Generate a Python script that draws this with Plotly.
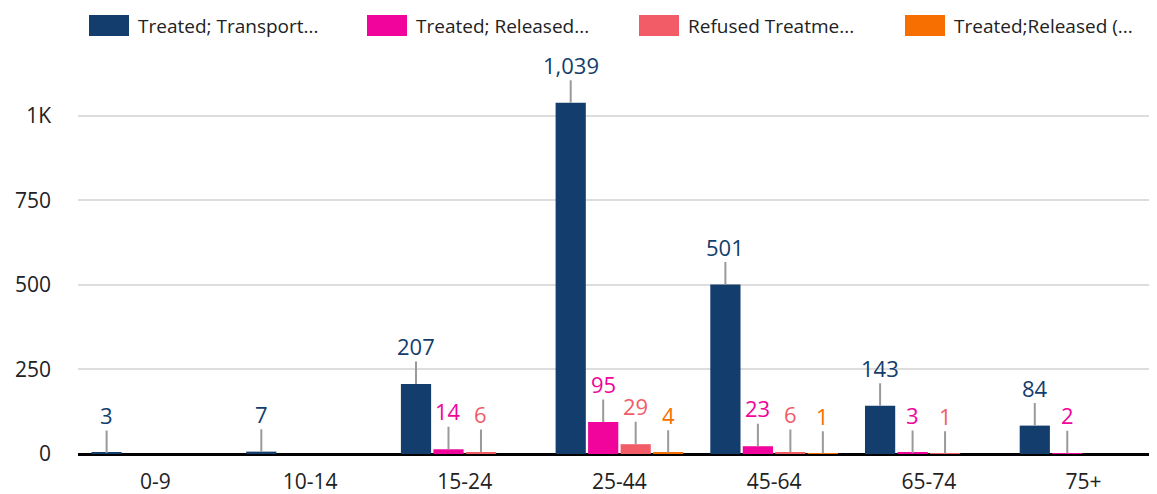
import plotly.graph_objects as go

categories = ["0-9", "10-14", "15-24", "25-44", "45-64", "65-74", "75+"]
series_names = ["Treated; Transport...", "Treated; Released...", "Refused Treatme...", "Treated;Released (..."]
transported = [3, 7, 207, 1039, 501, 143, 84]
released = [0, 0, 14, 95, 23, 3, 2]
refused = [0, 0, 6, 29, 6, 1, 0]
released_other = [0, 0, 0, 4, 1, 0, 0]
series_values = [transported, released, refused, released_other]
colors = ["#133D6C", "#F0049B", "#F25C66", "#F76F00"]
ytick_vals = [0, 250, 500, 750, 1000]
ytick_text = ["0", "250", "500", "750", "1K"]

# the page body adds an 8px margin, so the figure is drawn 8px smaller
OFF = 8
W, H = 1157 - OFF, 494 - OFF
ML, MR, MT, MB = 78 - OFF, 0, 55 - OFF, 40
FONT = "Open Sans"
BARGAP = 0.16
GROUPGAP = 0.07
XRANGE = [-0.5, 6.475]

fig = go.Figure()
for name, vals, col in zip(series_names, series_values, colors):
    fig.add_trace(go.Bar(x=categories, y=vals, name=name, marker_color=col,
                         marker_line_width=0, showlegend=False))

# pixel width of one bar slot inside a group
plot_w = W - ML - MR
plot_h = H - MT - MB
cat_px = plot_w / (XRANGE[1] - XRANGE[0])
slot_px = cat_px * (1 - BARGAP) / len(series_values)

annotations = []
for i, (vals, col) in enumerate(zip(series_values, colors)):
    shift = (i - (len(series_values) - 1) / 2) * slot_px
    for cat, v in zip(categories, vals):
        if v <= 0:
            continue
        annotations.append(dict(
            x=cat, y=v, xref="x", yref="y", xshift=shift,
            text=f"{v:,}", showarrow=True, arrowhead=0, arrowwidth=2,
            arrowcolor="#9a9a9a", ax=0, ay=-38, standoff=0,
            font=dict(family=FONT, size=22, color=col), borderpad=0,
        ))

# legend drawn by hand so the swatches match the original size
# (positions below are in screen pixels of the final page)
legend_x = [89, 367, 639, 905]
shapes = []
for name, col, lx in zip(series_names, colors, legend_x):
    x0 = lx - OFF - ML
    shapes.append(dict(type="rect", xref="paper", yref="paper",
                       x0=x0 / plot_w, x1=(x0 + 40) / plot_w,
                       y0=(H + OFF - MB - 36) / plot_h,
                       y1=(H + OFF - MB - 15) / plot_h,
                       fillcolor=col, line_width=0))
    annotations.append(dict(x=(x0 + 47) / plot_w, y=(H + OFF - MB - 26) / plot_h,
                            xref="paper", yref="paper", xanchor="left", yanchor="middle",
                            text=name, showarrow=False,
                            font=dict(family=FONT, size=19, color="#222222")))

fig.update_layout(
    width=W, height=H,
    margin=dict(l=ML, r=MR, t=MT, b=MB),
    paper_bgcolor="white", plot_bgcolor="white",
    barmode="group", bargap=BARGAP, bargroupgap=GROUPGAP,
    font=dict(family=FONT, color="#222222"),
    annotations=annotations, shapes=shapes,
    showlegend=False,
)
fig.update_xaxes(range=XRANGE, showgrid=False, showline=False, ticks="",
                 tickfont=dict(size=21, color="#222222"), ticklabelstandoff=13)
fig.update_yaxes(range=[0, 1180], tickvals=ytick_vals, ticktext=ytick_text,
                 showgrid=True, gridcolor="#dddddd", gridwidth=2,
                 zeroline=True, zerolinecolor="#000000", zerolinewidth=3,
                 tickfont=dict(size=21, color="#222222"), ticklabelstandoff=26)

fig.write_html("out.html")
